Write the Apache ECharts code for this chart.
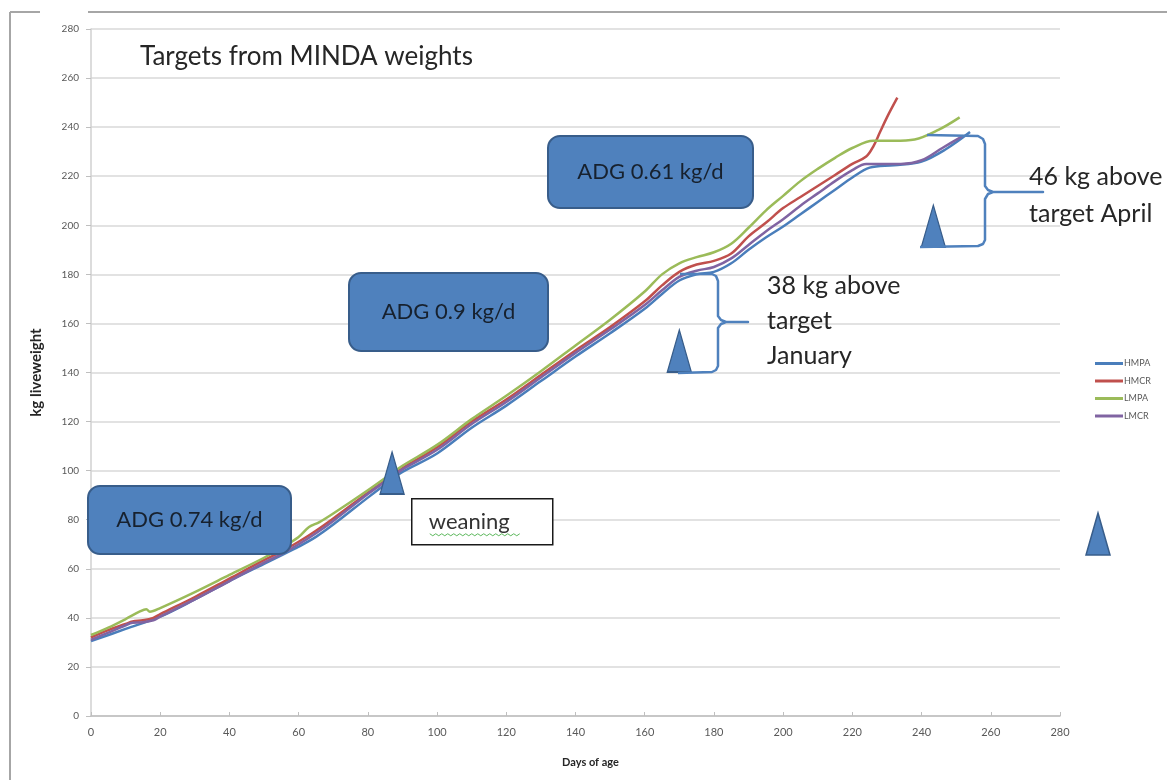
<!DOCTYPE html>
<html>
<head>
<meta charset="utf-8">
<script src="https://cdn.jsdelivr.net/npm/echarts@6/dist/echarts.min.js"></script>
<style>
  html, body { margin: 0; padding: 0; background: #ffffff; }
  #chart { width: 1167px; height: 780px; }
</style>
</head>
<body>
<div id="chart"></div>
<script>
// Axis ranges (days of age, kg liveweight)
const dayAxis = { min: 0, max: 280, step: 20 };
const kgAxis = { min: 0, max: 280, step: 20 };

// Growth curves: [day of age, kg liveweight]
const HMPA = [[0,30.5],[10,35.5],[20,40.5],[30,47.5],[40,55],[50,62],[55,65.5],[60,69],[65,73],[70,78],[80,89],[87,96.5],[90,99.5],[100,107],[110,117.5],[120,126.5],[130,136.5],[140,146.5],[150,156],[160,166],[165,172],[170,177.5],[175,180],[180,181],[185,184.5],[190,190],[195,195],[200,199.5],[205,204.5],[210,209.5],[215,214.5],[220,219.5],[225,223.5],[232,224.5],[240,226],[247,231],[254,238]];
const HMCR = [[0,32],[5,35],[10,37.5],[12,38.5],[15,39],[18,40],[20,41.5],[30,48.5],[40,56],[50,63.5],[55,67],[60,71],[65,75.5],[70,80.5],[80,91],[87,98],[90,101],[100,109.5],[110,120],[120,129],[130,139],[140,149],[150,158.5],[160,169],[165,175.5],[170,181],[175,184],[180,185.5],[185,188.5],[190,195.5],[195,201],[200,207],[205,211.5],[210,216],[215,220.5],[220,225],[224,228],[226,232],[228,238],[230,244],[233,252]];
const LMPA = [[0,33],[5,36],[10,39.5],[14,42.5],[16,43.5],[17,42.5],[20,44],[30,50.5],[40,57.5],[50,64.5],[55,68.5],[60,73],[63,77],[66,79],[70,82.5],[80,92],[87,99],[90,102],[100,110.5],[110,121],[120,130.5],[130,140.5],[140,151],[150,161.5],[160,173],[165,180],[170,184.5],[175,187],[180,189],[185,192.5],[190,199],[195,206],[200,212],[205,218],[210,223],[215,227.5],[220,231.5],[226,234.5],[232,234.5],[238,235],[245,239],[251,244]];
const LMCR = [[0,31],[5,34],[10,37],[12,38],[15,38.2],[18,39],[20,40.5],[30,47.5],[40,55],[50,62.5],[55,66],[60,70],[65,74.5],[70,79.5],[80,90.5],[87,97.5],[90,100.5],[100,108.5],[110,119],[120,128],[130,138],[140,148],[150,157.5],[160,167.5],[165,173.5],[170,179],[175,181.5],[180,183],[185,186.5],[190,192],[195,197.5],[200,202.5],[205,208],[210,213],[215,218],[220,222.5],[224,225],[228,225],[234,225],[240,226.5],[246,231.5],[252,236.5]];

// Target weights (weaning, January, April): [day of age, kg]
const targets = [[87,90.5],[170,140.2],[243.4,191.1]];

const seriesNames = ['HMPA','HMCR','LMPA','LMCR'];
const seriesColors = ['#4a7ebb','#c0504d','#9bbb59','#8064a2'];
const seriesData = [HMPA, HMCR, LMPA, LMCR];

const FONT = 'Lato, "Open Sans", sans-serif';
const BOX_FILL = '#4f81bd';
const BOX_EDGE = '#385d8a';
const BRACE = '#4f81bd';

function adgBox(x, y, w, h, label) {
  return {
    type: 'group', left: x, top: y, z: 20,
    children: [
      { type: 'rect', z: 20, shape: { x: 0, y: 0, width: w, height: h, r: 12 },
        style: { fill: BOX_FILL, stroke: BOX_EDGE, lineWidth: 2 } },
      { type: 'text', z: 21, x: w / 2, y: h / 2,
        style: { text: label, font: '22px ' + FONT, fill: '#17212e', align: 'center', verticalAlign: 'middle' } }
    ]
  };
}

function brace(points) {
  return { type: 'polyline', z: 20, shape: { points }, style: { stroke: BRACE, lineWidth: 2.5, fill: null, lineJoin: 'round' } };
}

const chart = echarts.init(document.getElementById('chart'), null, { renderer: 'canvas' });

const option = {
  animation: false,
  backgroundColor: '#ffffff',
  grid: { left: 91, right: 107, top: 29, bottom: 64, containLabel: false },
  legend: {
    data: seriesNames,
    orient: 'vertical',
    left: 1090, top: 354,
    icon: 'rect', itemWidth: 28, itemHeight: 3, itemGap: 8.5,
    textStyle: { fontFamily: FONT, fontSize: 9, color: '#595959', padding: [0, 0, 0, -4] },
    selectedMode: false
  },
  xAxis: {
    type: 'value', min: dayAxis.min, max: dayAxis.max, interval: dayAxis.step,
    name: 'Days of age', nameLocation: 'middle', nameGap: 41,
    nameTextStyle: { fontFamily: FONT, fontSize: 11, fontWeight: 'bold', color: '#262626', padding: [0, 0, 0, 30] },
    axisLine: { show: true, lineStyle: { color: '#bfbfbf', width: 1.5 } },
    axisTick: { show: true, length: 4, inside: true, lineStyle: { color: '#bfbfbf' } },
    axisLabel: { fontFamily: FONT, fontSize: 11, color: '#595959', margin: 11 },
    splitLine: { show: false }
  },
  yAxis: {
    type: 'value', min: kgAxis.min, max: kgAxis.max, interval: kgAxis.step,
    name: 'kg liveweight', nameLocation: 'middle', nameGap: 47, nameRotate: 90,
    nameTextStyle: { fontFamily: FONT, fontSize: 15, fontWeight: 'bold', color: '#262626' },
    axisLine: { show: true, lineStyle: { color: '#d0d0d0', width: 1.5 } },
    axisTick: { show: true, length: 5, lineStyle: { color: '#bfbfbf' } },
    axisLabel: { fontFamily: FONT, fontSize: 10, color: '#595959', margin: 12 },
    splitLine: { show: true, lineStyle: { color: '#d9d9d9', width: 1.5 } }
  },
  series: seriesNames.map((name, i) => ({
    name, type: 'line', data: seriesData[i], smooth: 0.35, symbol: 'none',
    lineStyle: { color: seriesColors[i], width: 2.5 }, itemStyle: { color: seriesColors[i] },
    z: 3 + i, silent: true
  })).concat([{
    name: 'Target', type: 'scatter', data: targets,
    symbol: 'triangle', symbolSize: [24, 42], symbolOffset: [0, '-50%'],
    itemStyle: { color: BOX_FILL, borderColor: BOX_EDGE, borderWidth: 1.5, opacity: 1 },
    z: 12, silent: true
  }]),
  graphic: [
    // outer frame
    { type: 'line', shape: { x1: 10, y1: 12, x2: 40, y2: 12 }, style: { stroke: '#a6a6a6', lineWidth: 2 } },
    { type: 'line', shape: { x1: 88, y1: 12, x2: 1167, y2: 12 }, style: { stroke: '#a6a6a6', lineWidth: 2 } },
    { type: 'line', shape: { x1: 10, y1: 12, x2: 10, y2: 780 }, style: { stroke: '#a6a6a6', lineWidth: 2 } },
    // title
    { type: 'text', left: 140, top: 44, z: 20,
      style: { text: 'Targets from MINDA weights', font: '26px ' + FONT, fill: '#262626' } },
    // average daily gain call-outs
    adgBox(547, 135, 205, 72, 'ADG 0.61 kg/d'),
    adgBox(348, 272, 199, 78, 'ADG 0.9 kg/d'),
    adgBox(87, 485, 203, 68, 'ADG 0.74 kg/d'),
    // weaning label
    { type: 'group', left: 411, top: 498, z: 20, children: [
      { type: 'rect', z: 20, shape: { x: 0, y: 0, width: 141, height: 46 },
        style: { fill: '#ffffff', stroke: '#1a1a1a', lineWidth: 1.5 } },
      { type: 'text', z: 21, x: 17, y: 23,
        style: { text: 'weaning', font: '22px ' + FONT, fill: '#333333', verticalAlign: 'middle' } },
      { type: 'polyline', z: 21, shape: { points: [[18,35],[21,37],[24,35],[27,37],[30,35],[33,37],[36,35],[39,37],[42,35],[45,37],[48,35],[51,37],[54,35],[57,37],[60,35],[63,37],[66,35],[69,37],[72,35],[75,37],[78,35],[81,37],[84,35],[87,37],[90,35],[93,37],[96,35],[99,37],[102,35],[105,37],[108,35]] },
        style: { stroke: '#5cb85c', lineWidth: 1, fill: null } }
    ] },
    // braces showing margin above target
    brace([[680,274],[712,274],[716,276],[718,281],[718,316],[721,320],[726,322],[748,322],[726,322],[721,324],[718,328],[718,366],[716,370],[712,372],[678,373]]),
    brace([[927,135],[978,136],[983,139],[985,144],[985,186],[988,190],[993,192],[1043,192],[993,192],[988,194],[985,199],[985,240],[983,244],[978,246],[920,247]]),
    { type: 'text', left: 767, top: 268, z: 21,
      style: { text: '38 kg above\ntarget\nJanuary', font: '25px ' + FONT, fill: '#262626', lineHeight: 35 } },
    { type: 'text', left: 1029, top: 158, z: 21,
      style: { text: '46 kg above\ntarget April', font: '25px ' + FONT, fill: '#262626', lineHeight: 37 } },
    // target marker in the key
    { type: 'polygon', z: 20, shape: { points: [[1098,513],[1110,555],[1086,555]] },
      style: { fill: BOX_FILL, stroke: BOX_EDGE, lineWidth: 1.5 } }
  ]
};

chart.setOption(option);
</script>
</body>
</html>
